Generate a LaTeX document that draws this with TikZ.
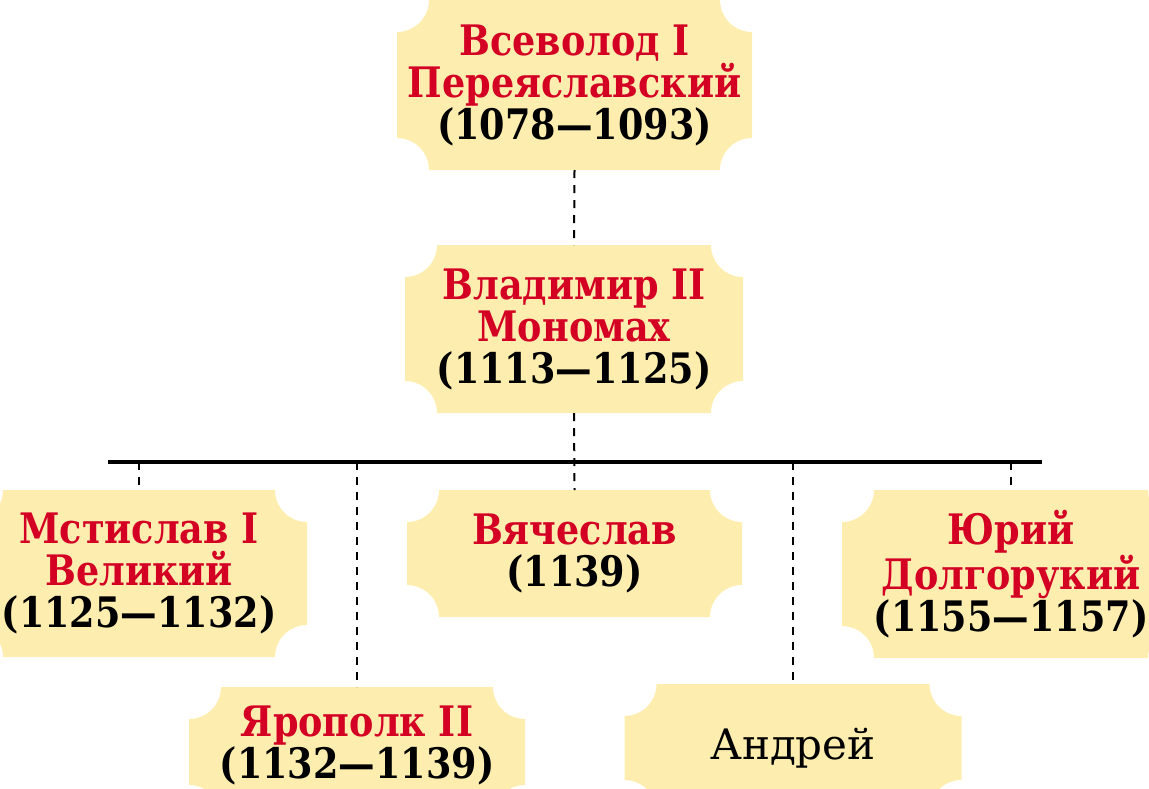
\documentclass[tikz,border=0pt]{standalone}
\usepackage{fontspec}
\setmainfont[FakeStretch=0.87]{DejaVu Serif}
\newfontfamily\plainfam{DejaVu Serif}
\usetikzlibrary{calc,backgrounds}
\definecolor{plaqY}{RGB}{253,238,176}
\definecolor{nameR}{RGB}{212,0,36}
\newcommand{\nm}[1]{\textcolor{nameR}{#1}}
\newcommand{\plqr}{16pt}
% plaque: rectangle with concave quarter-circle corners, around a node
\newcommand{\drawplaque}[2][0pt]{%
  \fill[plaqY]
    ($(#2.north west)+(\plqr,0)$) -- ($(#2.north east)+(-\plqr,0)$)
    arc[start angle=180,end angle=270,radius=\plqr]
    -- ($(#2.south east)+(0,\plqr-#1)$)
    arc[start angle=90,end angle=180,radius=\plqr]
    -- ($(#2.south west)+(\plqr,-#1)$)
    arc[start angle=0,end angle=90,radius=\plqr]
    -- ($(#2.north west)+(0,-\plqr)$)
    arc[start angle=270,end angle=360,radius=\plqr]
    -- cycle;}
\tikzset{
  person/.style={inner sep=0pt, outer sep=0pt, align=center,
    font=\fontsize{21}{21}\selectfont\bfseries},
  plain/.style={inner sep=0pt, outer sep=0pt, align=center,
    font=\plainfam\fontsize{21}{21}\selectfont},
  kin/.style={line width=1pt, dash pattern=on 4pt off 3.5pt},
  bus/.style={line width=1.6pt}
}
\begin{document}
\begin{tikzpicture}[x=0.5pt,y=-0.5pt]
\useasboundingbox (0,0) rectangle (1149,788);
\clip (0,0) rectangle (1149,788);
\node[person, minimum width=177.5pt, minimum height=85pt] (vs) at (574.5,85)
  {\nm{Всеволод I}\\\nm{Переяславский}\\(1078—1093)};
\node[person, minimum width=169pt, minimum height=84pt] (vl) at (574,329)
  {\nm{Владимир II}\\\nm{Мономах}\\(1113—1125)};
\node[person, minimum width=168pt, minimum height=83.5pt] (ms) at (139,573.5)
  {\nm{Мстислав I}\\\nm{Великий}\\(1125—1132)};
\node[person, minimum width=167.5pt, minimum height=63.5pt] (vy) at (574.5,553.5)
  {\nm{Вячеслав}\\(1139)};
\node[person, minimum width=169pt, minimum height=84pt] (yu) at (1011,574)
  {\nm{Юрий}\\\nm{Долгорукий}\\(1155—1157)};
\node[person, minimum width=168pt, minimum height=58pt] (yr) at (357,745)
  {\nm{Ярополк II}\\(1132—1139)};
\node[plain, minimum width=168.5pt, minimum height=64pt] (an) at (793,748)
  {Андрей};
\begin{scope}[on background layer]
  \clip (0,0) rectangle (1149,788);
  \drawplaque{vs}
  \drawplaque{vl}
  \drawplaque{ms}
  \drawplaque{vy}
  \drawplaque{yu}
  \drawplaque[7pt]{yr}
  \drawplaque{an}
\end{scope}
\coordinate (busL) at (108,462);
\coordinate (busR) at (1042,462);
\draw[kin] (vs.south) -- (vl.north);
\draw[kin] (vl.south) -- (vy.north);
\draw[kin] (ms.north |- busL) -- (ms.north);
\draw[kin] (yr.north |- busL) -- (yr.north);
\draw[kin] (an.north |- busL) -- (an.north);
\draw[kin] (yu.north |- busL) -- (yu.north);
\draw[bus] (busL) -- (busR);
\end{tikzpicture}
\end{document}
